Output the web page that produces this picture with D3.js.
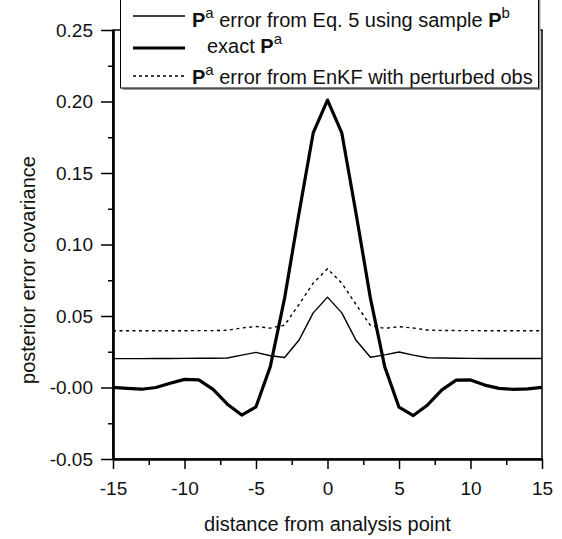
<!DOCTYPE html>
<html><head><meta charset="utf-8">
<script src="https://cdn.jsdelivr.net/npm/d3@7"></script>
<style>body{margin:0;background:#fff}svg{display:block}</style>
</head><body><svg id="c" width="562" height="539"></svg>
<script>
const distance = [-15,-14,-13,-12,-11,-10,-9,-8,-7,-6,-5,-4,-3,-2,-1,0,1,2,3,4,5,6,7,8,9,10,11,12,13,14,15];
const exactPa = [0.0001,-0.0006,-0.0012,0.0000,0.0030,0.0057,0.0053,-0.0013,-0.0117,-0.0193,-0.0135,0.0146,0.0625,0.1215,0.1780,0.2010,0.1780,0.1215,0.0625,0.0146,-0.0138,-0.0196,-0.0122,-0.0017,0.0052,0.0053,0.0017,-0.0006,-0.0013,-0.0009,0.0001];
const eq5Pa = [0.0202,0.0202,0.0202,0.0203,0.0203,0.0204,0.0205,0.0205,0.0206,0.0226,0.0246,0.0222,0.0210,0.0330,0.0522,0.0632,0.0522,0.0330,0.0212,0.0228,0.0248,0.0226,0.0208,0.0206,0.0205,0.0204,0.0203,0.0203,0.0203,0.0203,0.0203];
const enkfPa = [0.0397,0.0397,0.0397,0.0397,0.0397,0.0397,0.0398,0.0398,0.0400,0.0416,0.0427,0.0415,0.0436,0.0580,0.0730,0.0830,0.0730,0.0580,0.0434,0.0413,0.0425,0.0416,0.0402,0.0399,0.0398,0.0398,0.0397,0.0397,0.0397,0.0397,0.0397];
const xTickValues = [-15,-10,-5,0,5,10,15];
const xTickLabels = ["-15","-10","-5","0","5","10","15"];
const xMinorValues = [-12.5,-7.5,-2.5,2.5,7.5,12.5];
const yTickValues = [0.25,0.20,0.15,0.10,0.05,0,-0.05];
const yTickLabels = ["0.25","0.20","0.15","0.10","0.05","-0.00","-0.05"];
const yMinorValues = [0.225,0.175,0.125,0.075,0.025,-0.025];
const xTitle = "distance from analysis point";
const yTitle = "posterior error covariance";

const svg = d3.select("#c");
const font = "'Liberation Sans', Arial, Helvetica, sans-serif";
const L = 113, R = 542, T = 30, B = 459;
const x = d3.scaleLinear().domain([-15, 15]).range([L, R]);
const y = d3.scaleLinear().domain([-0.05, 0.25]).range([B, T]);

// frame
svg.append("rect").attr("x", L).attr("y", T).attr("width", R - L).attr("height", B - T)
  .attr("fill", "none").attr("stroke", "#000").attr("stroke-width", 1.5);

// axes
const ylab = d3.scaleOrdinal().domain(yTickValues).range(yTickLabels);
const xlab = d3.scaleOrdinal().domain(xTickValues).range(xTickLabels);
const gy = svg.append("g").attr("transform", `translate(${L},0)`)
  .call(d3.axisLeft(y).tickValues(yTickValues).tickSize(12).tickPadding(8).tickFormat(d => ylab(d)).tickSizeOuter(0));
const gym = svg.append("g").attr("transform", `translate(${L},0)`)
  .call(d3.axisLeft(y).tickValues(yMinorValues).tickSize(5).tickFormat("").tickSizeOuter(0));
const gx = svg.append("g").attr("transform", `translate(0,${B})`)
  .call(d3.axisBottom(x).tickValues(xTickValues).tickSize(10).tickPadding(13).tickFormat(d => xlab(d)).tickSizeOuter(0));
const gxm = svg.append("g").attr("transform", `translate(0,${B})`)
  .call(d3.axisBottom(x).tickValues(xMinorValues).tickSize(6).tickFormat("").tickSizeOuter(0));
[gy, gym, gx, gxm].forEach(g => {
  g.select(".domain").attr("stroke", "#000").attr("stroke-width", 2.2);
  g.selectAll(".tick line").attr("stroke", "#000").attr("stroke-width", 1.5);
  g.selectAll("text").attr("font-family", font).attr("font-size", 19).attr("fill", "#111");
});

// titles
svg.append("text").attr("x", (L + R) / 2).attr("y", 531).attr("text-anchor", "middle")
  .attr("font-family", font).attr("font-size", 20).attr("fill", "#111").text(xTitle);
svg.append("text").attr("transform", "translate(35,270) rotate(-90)").attr("text-anchor", "middle")
  .attr("font-family", font).attr("font-size", 20).attr("fill", "#111").text(yTitle);

// lines
const line = vals => d3.line().x((d, i) => x(distance[i])).y(d => y(d))(vals);
svg.append("path").attr("d", line(eq5Pa)).attr("fill", "none").attr("stroke", "#000").attr("stroke-width", 1.4).attr("stroke-linejoin", "round");
svg.append("path").attr("d", line(enkfPa)).attr("fill", "none").attr("stroke", "#000").attr("stroke-width", 1.4).attr("stroke-dasharray", "3,3.5");
svg.append("path").attr("d", line(exactPa)).attr("fill", "none").attr("stroke", "#000").attr("stroke-width", 3.2).attr("stroke-linejoin", "round");

// legend
const lg = svg.append("g");
lg.append("rect").attr("x", 122.5).attr("y", -5).attr("width", 418).attr("height", 95).attr("fill", "#999");
lg.append("rect").attr("x", 120.5).attr("y", -5).attr("width", 418).attr("height", 93).attr("fill", "#fff").attr("stroke", "#000").attr("stroke-width", 1);
const entries = [
  {ly: 16, ty: 26.5, w: 1.4, dash: null, tx: 192, parts: [["P", true, false], ["a", false, true], [" error from Eq. 5 using sample ", false, false], ["P", true, false], ["b", false, true]]},
  {ly: 48, ty: 53, w: 3.2, dash: null, tx: 207, parts: [["exact ", false, false], ["P", true, false], ["a", false, true]]},
  {ly: 76, ty: 84, w: 1.4, dash: "3,3", tx: 192, parts: [["P", true, false], ["a", false, true], [" error from EnKF with perturbed obs", false, false]]}
];
entries.forEach(e => {
  const l = lg.append("line").attr("x1", 133).attr("x2", 185).attr("y1", e.ly).attr("y2", e.ly)
    .attr("stroke", "#000").attr("stroke-width", e.w);
  if (e.dash) l.attr("stroke-dasharray", e.dash);
  const t = lg.append("text").attr("x", e.tx).attr("y", e.ty).attr("font-family", font).attr("font-size", 20).attr("fill", "#111").attr("xml:space", "preserve");
  let prevSup = false;
  e.parts.forEach(([s, bold, sup]) => {
    const ts = t.append("tspan").text(s);
    if (bold) ts.attr("font-weight", "bold");
    if (sup) { ts.attr("font-size", 15).attr("dy", -9); prevSup = true; }
    else if (prevSup) { ts.attr("dy", 9); prevSup = false; }
  });
});
</script></body></html>
